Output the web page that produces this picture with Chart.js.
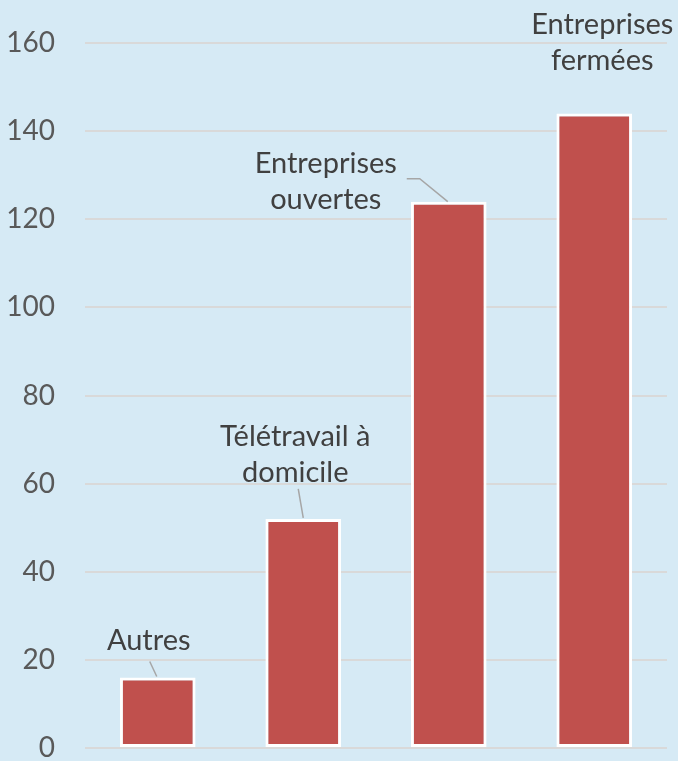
<!DOCTYPE html>
<html>
<head>
<meta charset="utf-8">
<script src="https://cdn.jsdelivr.net/npm/chart.js@4"></script>
<style>
  html, body { margin: 0; padding: 0; background: #D6EAF5; }
  #wrap { width: 678px; height: 761px; position: relative; }
</style>
</head>
<body>
<div id="wrap"><canvas id="chart"></canvas></div>
<script>
// catégories et valeurs
const categories = [["Autres"], ["Télétravail à", "domicile"], ["Entreprises", "ouvertes"], ["Entreprises", "fermées"]];
const values = [16, 52, 124, 144];
const yTicks = [0, 20, 40, 60, 80, 100, 120, 140, 160];

// position des étiquettes par rapport au haut de chaque barre
const labelPlacement = [
    { dx: -9, dy: -37, leader: [[-8, -16], [-1, -1]] },
    { dx: -8, dy: -64, leader: [[-5, -30], [0, -1]] },
    { dx: -123, dy: -20, leader: [[-42, -23], [-29, -23], [-1, 0]] },
    { dx: 8, dy: -71, leader: null }
];

const bgPlugin = {
    id: 'bg',
    beforeDraw(chart) {
        const c = chart.ctx;
        c.save();
        c.fillStyle = '#D6EAF5';
        c.fillRect(0, 0, chart.width, chart.height);
        c.restore();
    }
};

const labelPlugin = {
    id: 'barLabels',
    afterDatasetsDraw(chart) {
        const c = chart.ctx;
        const meta = chart.getDatasetMeta(0);
        c.save();
        meta.data.forEach((bar, i) => {
            const p = labelPlacement[i];
            const lines = categories[i];
            // trait de rappel
            if (p.leader) {
                c.strokeStyle = '#A6A6A6';
                c.lineWidth = 1.5;
                c.beginPath();
                p.leader.forEach((pt, k) => {
                    const x = bar.x + pt[0], y = bar.y + pt[1];
                    if (k === 0) c.moveTo(x, y); else c.lineTo(x, y);
                });
                c.stroke();
            }
            c.fillStyle = '#404040';
            c.font = '29px Lato';
            c.textAlign = 'center';
            c.textBaseline = 'middle';
            const lh = 36;
            const top = bar.y + p.dy - (lines.length - 1) * lh / 2;
            lines.forEach((t, k) => {
                c.fillText(t, bar.x + p.dx, top + k * lh);
            });
        });
        c.restore();
    }
};

new Chart(document.getElementById('chart'), {
    type: 'bar',
    data: {
        labels: categories,
        datasets: [{
            data: values,
            backgroundColor: '#C0504D',
            borderColor: '#FFFFFF',
            borderWidth: 3,
            borderSkipped: false,
            categoryPercentage: 1,
            barPercentage: 0.52
        }]
    },
    options: {
        responsive: true,
        maintainAspectRatio: false,
        animation: false,
        layout: { padding: { top: 43, right: 11, bottom: 13, left: 0 } },
        plugins: {
            legend: { display: false },
            tooltip: { enabled: false }
        },
        scales: {
            x: { display: false },
            y: {
                min: 0,
                max: 160,
                afterBuildTicks(scale) {
                    scale.ticks = yTicks.map(v => ({ value: v }));
                },
                afterFit(scale) {
                    scale.width = 85;
                    scale.paddingTop = 0;
                    scale.paddingBottom = 0;
                },
                border: { display: false },
                grid: { color: '#D9D9D9', lineWidth: 2, drawTicks: false },
                ticks: {
                    padding: 30,
                    color: '#595959',
                    font: { family: 'Lato', size: 28 }
                }
            }
        }
    },
    plugins: [bgPlugin, labelPlugin]
});
</script>
</body>
</html>
